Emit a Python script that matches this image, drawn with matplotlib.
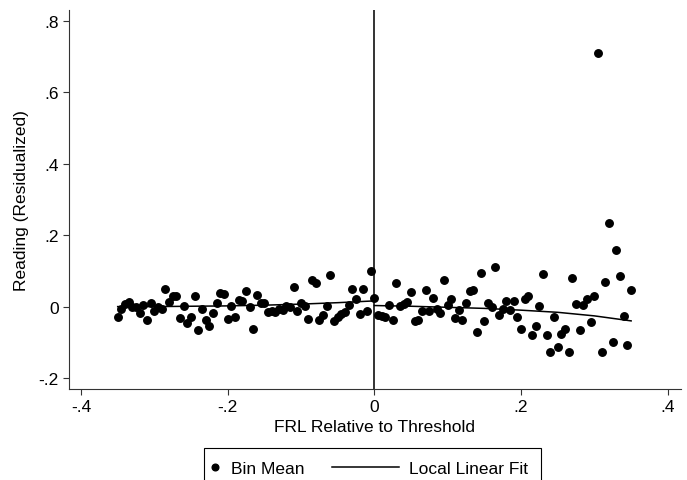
import numpy as np
import matplotlib
matplotlib.use("Agg")
import matplotlib.pyplot as plt
from matplotlib.lines import Line2D
from matplotlib.legend_handler import HandlerLine2D

plt.rcParams['font.family'] = ['Liberation Sans', 'DejaVu Sans']

# ---- data ----
bin_x = [-0.350, -0.345, -0.340, -0.335, -0.330, -0.325, -0.320, -0.315, -0.310, -0.305,
         -0.300, -0.295, -0.290, -0.285, -0.280, -0.275, -0.270, -0.265, -0.260, -0.255,
         -0.250, -0.245, -0.240, -0.235, -0.230, -0.225, -0.220, -0.215, -0.210, -0.205,
         -0.200, -0.195, -0.190, -0.185, -0.180, -0.175, -0.170, -0.165, -0.160, -0.155,
         -0.150, -0.145, -0.140, -0.135, -0.130, -0.125, -0.120, -0.115, -0.110, -0.105,
         -0.100, -0.095, -0.090, -0.085, -0.080, -0.075, -0.070, -0.065, -0.060, -0.055,
         -0.050, -0.045, -0.040, -0.035, -0.030, -0.025, -0.020, -0.015, -0.010, -0.005,
         0.000, 0.005, 0.010, 0.015, 0.020, 0.025, 0.030, 0.035, 0.040, 0.045,
         0.050, 0.055, 0.060, 0.065, 0.070, 0.075, 0.080, 0.085, 0.090, 0.095,
         0.100, 0.105, 0.110, 0.115, 0.120, 0.125, 0.130, 0.135, 0.140, 0.145,
         0.150, 0.155, 0.160, 0.165, 0.170, 0.175, 0.180, 0.185, 0.190, 0.195,
         0.200, 0.205, 0.210, 0.215, 0.220, 0.225, 0.230, 0.235, 0.240, 0.245,
         0.250, 0.255, 0.260, 0.265, 0.270, 0.275, 0.280, 0.285, 0.290, 0.295,
         0.300, 0.305, 0.310, 0.315, 0.320, 0.325, 0.330, 0.335, 0.340, 0.345,
         0.350]
bin_mean = [-0.030, -0.007, 0.007, 0.012, 0.000, 0.000, -0.018, 0.004, -0.038, 0.009,
            -0.013, 0.000, -0.006, 0.050, 0.014, 0.030, 0.030, -0.033, 0.003, -0.047,
            -0.030, 0.030, -0.066, -0.006, -0.037, -0.055, -0.018, 0.010, 0.038, 0.034,
            -0.035, 0.002, -0.030, 0.018, 0.015, 0.044, -0.002, -0.062, 0.032, 0.009,
            0.009, -0.014, -0.012, -0.016, -0.006, -0.010, 0.003, -0.002, 0.054, -0.011,
            0.009, 0.002, -0.035, 0.075, 0.066, -0.037, -0.023, 0.003, 0.089, -0.040,
            -0.030, -0.022, -0.014, 0.004, 0.049, 0.021, -0.022, 0.049, -0.013, 0.099,
            0.024, -0.024, -0.027, -0.030, 0.004, -0.038, 0.066, 0.003, 0.007, 0.012,
            0.040, -0.040, -0.037, -0.012, 0.046, -0.013, 0.025, -0.007, -0.018, 0.075,
            0.005, 0.021, -0.032, -0.010, -0.038, 0.010, 0.043, 0.047, -0.071, 0.093,
            -0.040, 0.009, -0.002, 0.112, -0.024, -0.006, 0.017, -0.010, 0.017, -0.030,
            -0.062, 0.020, 0.029, -0.080, -0.054, 0.003, 0.091, -0.080, -0.126, -0.028,
            -0.112, -0.077, -0.062, -0.126, 0.081, 0.007, -0.066, 0.004, 0.022, -0.043,
            0.030, 0.710, -0.126, 0.068, 0.233, -0.098, 0.159, 0.087, -0.025, -0.108,
            0.047]

fit_left_x = [-0.35, -0.30, -0.25, -0.20, -0.15, -0.10, -0.05, 0.00]
fit_left_y = [0.000, 0.000, 0.001, 0.002, 0.004, 0.007, 0.011, 0.016]
fit_right_x = [0.00, 0.05, 0.10, 0.15, 0.20, 0.25, 0.30, 0.35]
fit_right_y = [0.003, 0.001, -0.002, -0.005, -0.010, -0.016, -0.026, -0.040]

xticks = [-0.4, -0.2, 0.0, 0.2, 0.4]
xticklabels = ['-.4', '-.2', '0', '.2', '.4']
yticks = [-0.2, 0.0, 0.2, 0.4, 0.6, 0.8]
yticklabels = ['-.2', '0', '.2', '.4', '.6', '.8']

FS = 12.5
W, H = 687, 481
fig = plt.figure(figsize=(W / 100, H / 100), dpi=100)
ax = fig.add_axes([69 / W, 1 - 390 / H, (681 - 69) / W, (390 - 11) / H])

ax.plot(bin_x, bin_mean, 'o', color='black', markersize=5.4, linestyle='none',
        zorder=3)
ax.plot(fit_left_x, fit_left_y, color='black', lw=1.1, zorder=2)
ax.plot(fit_right_x, fit_right_y, color='black', lw=1.1, zorder=2)
ax.axvline(0, color='#333333', lw=1.4, zorder=1)

ax.set_xlim(-0.4164, 0.4180)
ax.set_ylim(-0.2308, 0.8308)
ax.set_xticks(xticks)
ax.set_xticklabels(xticklabels)
ax.set_yticks(yticks)
ax.set_yticklabels(yticklabels)
ax.tick_params(axis='both', direction='out', length=4.5, width=0.8,
               color='#333333', labelsize=FS, pad=3)
for s in ['top', 'right']:
    ax.spines[s].set_visible(False)
for s in ['left', 'bottom']:
    ax.spines[s].set_color('#333333')
    ax.spines[s].set_linewidth(0.8)

ax.set_xlabel('FRL Relative to Threshold', fontsize=FS, labelpad=3)
ax.set_ylabel('Reading (Residualized)', fontsize=FS, labelpad=7)


class WideLineHandler(HandlerLine2D):
    def get_xdata(self, legend, xdescent, ydescent, width, height, fontsize):
        xd = np.array([-xdescent - 45.4, -xdescent + 2.9])
        return xd, xd


class LeftDotHandler(HandlerLine2D):
    def get_xdata(self, legend, xdescent, ydescent, width, height, fontsize):
        xd = np.array([-xdescent - 1.4])
        return xd, xd


h_dot = Line2D([], [], marker='o', color='black', linestyle='none', markersize=4.8)
h_line = Line2D([], [], color='black', lw=1.1)
leg = fig.legend([h_dot, h_line], ['Bin Mean', 'Local Linear Fit'],
                 loc='upper left', bbox_to_anchor=(204 / W, 1 - 449 / H),
                 ncol=2, fontsize=FS, frameon=True, fancybox=False,
                 edgecolor='black', framealpha=1, borderaxespad=0,
                 borderpad=0.75, handlelength=0.1, handletextpad=0.7,
                 columnspacing=5.24, numpoints=1,
                 handler_map={h_line: WideLineHandler(), h_dot: LeftDotHandler()})
leg.get_frame().set_linewidth(0.8)

fig.savefig('out.png', dpi=100)
